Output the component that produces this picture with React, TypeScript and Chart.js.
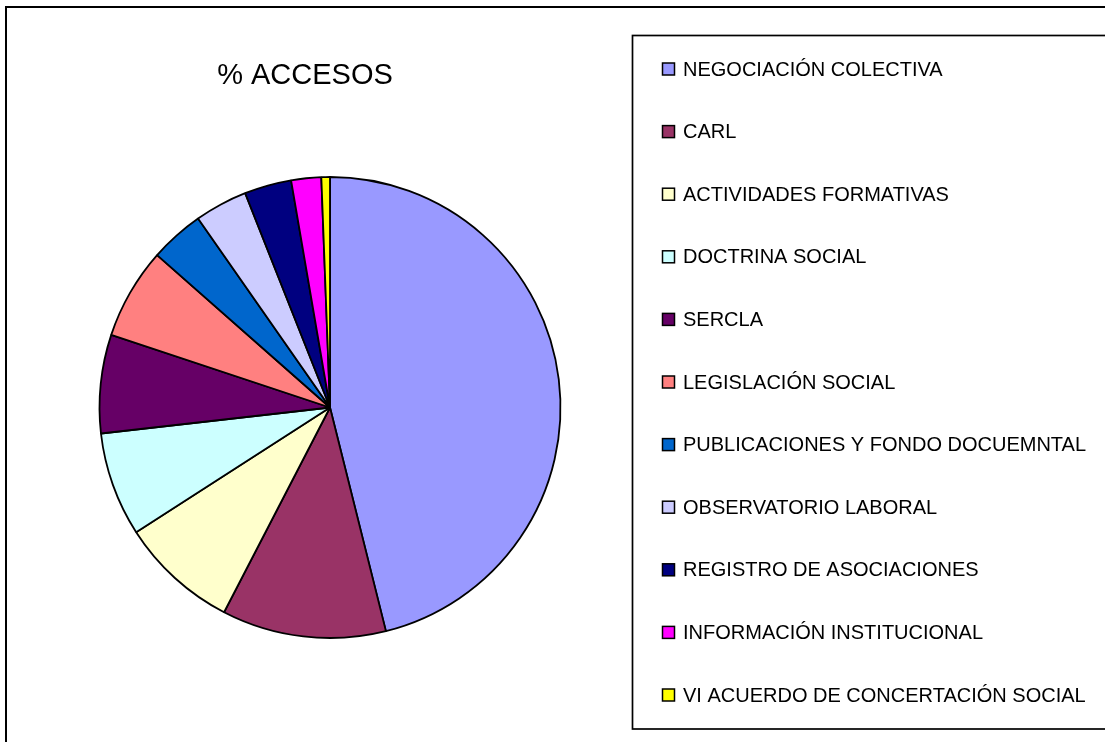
import React, { useEffect, useRef } from "react";
import { Chart, registerables } from "chart.js";

Chart.register(...registerables);

const title = "% ACCESOS";
const categories = [
  "NEGOCIACIÓN COLECTIVA",
  "CARL",
  "ACTIVIDADES FORMATIVAS",
  "DOCTRINA SOCIAL",
  "SERCLA",
  "LEGISLACIÓN SOCIAL",
  "PUBLICACIONES Y FONDO DOCUEMNTAL",
  "OBSERVATORIO LABORAL",
  "REGISTRO DE ASOCIACIONES",
  "INFORMACIÓN INSTITUCIONAL",
  "VI ACUERDO DE CONCERTACIÓN SOCIAL",
];
const values = [46.1, 11.5, 8.3, 7.3, 6.9, 6.4, 3.8, 3.7, 3.3, 2.1, 0.6];
const colors = [
  "#9999FF",
  "#993366",
  "#FFFFCC",
  "#CCFFFF",
  "#660066",
  "#FF8080",
  "#0066CC",
  "#CCCCFF",
  "#000080",
  "#FF00FF",
  "#FFFF00",
];

const FONT = '"Liberation Sans", Arial, sans-serif';

const framePlugin = {
  id: "frameAndLegend",
  beforeDraw(chart: any) {
    const ctx = chart.ctx as CanvasRenderingContext2D;
    ctx.save();
    ctx.fillStyle = "#ffffff";
    ctx.fillRect(0, 0, chart.width, chart.height);
    // outer frame
    ctx.strokeStyle = "#000000";
    ctx.lineWidth = 2;
    ctx.strokeRect(6, 7, 1130, 760);
    // title
    ctx.fillStyle = "#000000";
    ctx.font = `29px ${FONT}`;
    ctx.textAlign = "center";
    ctx.textBaseline = "middle";
    ctx.fillText(title, 305, 76);
    ctx.restore();
  },
  afterDraw(chart: any) {
    const ctx = chart.ctx as CanvasRenderingContext2D;
    ctx.save();
    // legend box
    ctx.strokeStyle = "#000000";
    ctx.lineWidth = 1.7;
    ctx.strokeRect(632.5, 35.5, 520, 693.5);
    ctx.font = `20px ${FONT}`;
    ctx.textAlign = "left";
    ctx.textBaseline = "middle";
    const bg = chart.data.datasets[0].backgroundColor as string[];
    chart.data.labels.forEach((label: string, i: number) => {
      const cy = 69 + i * 62.6;
      ctx.fillStyle = bg[i];
      ctx.fillRect(662.5, cy - 6, 12, 12);
      ctx.strokeStyle = "#000000";
      ctx.lineWidth = 1.5;
      ctx.strokeRect(662.5, cy - 6, 12, 12);
      ctx.fillStyle = "#000000";
      ctx.fillText(label, 683, cy + 1);
    });
    ctx.restore();
  },
};

export default function App() {
  const ref = useRef<HTMLCanvasElement | null>(null);
  useEffect(() => {
    if (!ref.current) return;
    const chart = new Chart(ref.current, {
      type: "pie",
      data: {
        labels: categories,
        datasets: [
          {
            data: values,
            backgroundColor: colors,
            borderColor: "#000000",
            borderWidth: 1.8,
          },
        ],
      },
      options: {
        responsive: false,
        animation: false,
        devicePixelRatio: 1,
        radius: 230.5,
        layout: { padding: { left: 98, right: 543, top: 176, bottom: 103 } },
        plugins: {
          legend: { display: false },
          title: { display: false },
          tooltip: { enabled: false },
        },
      },
      plugins: [framePlugin],
    });
    return () => chart.destroy();
  }, []);
  return (
    <div style={{ position: "absolute", left: 0, top: 0, width: 1105, height: 742 }}>
      <canvas ref={ref} width={1105} height={742} style={{ display: "block" }} />
    </div>
  );
}
